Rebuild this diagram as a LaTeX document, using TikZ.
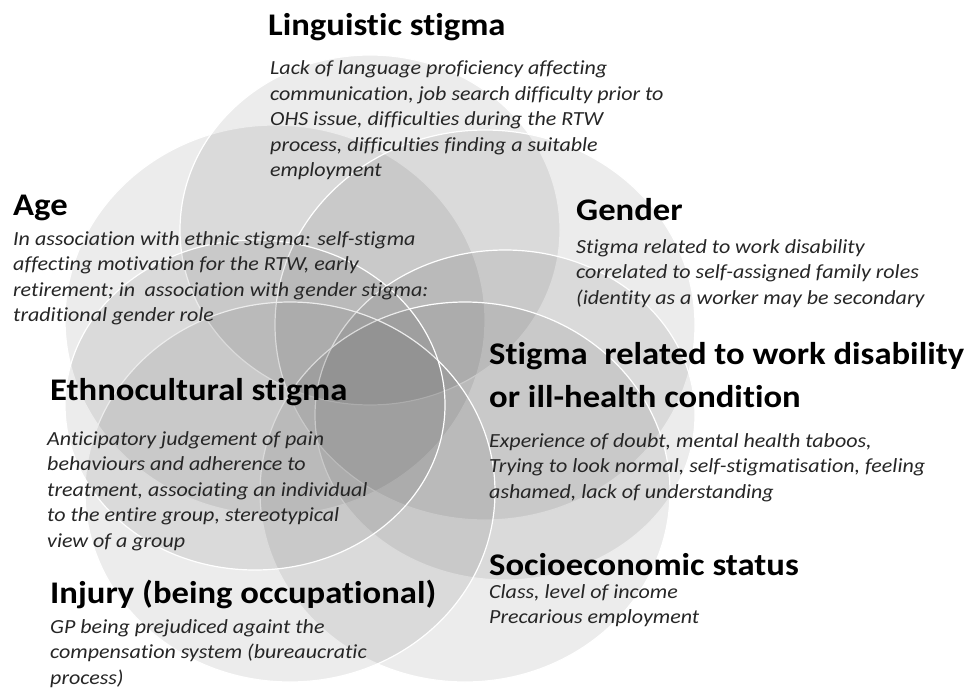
\documentclass[tikz,border=0pt]{standalone}
\usepackage{fontspec}
\usepackage{graphicx}
\setmainfont{Carlito}[RawFeature={-liga;-clig;-dlig;-calt}]
\newcommand{\wide}[1]{\scalebox{1.1}[1]{#1}}
\newcommand{\lines}[1]{\wide{\begin{tabular}[t]{@{}l@{}}#1\end{tabular}}}
\tikzset{
  petal/.style={fill=black, fill opacity=0.075},
  rim/.style={draw=white, line width=1.2pt},
  title/.style={anchor=base west, inner sep=0pt,
    font=\fontsize{31.5}{43}\selectfont\bfseries, text=black},
  desc/.style={anchor=base west, inner sep=0pt,
    font=\fontsize{20}{25.5}\selectfont\itshape, text=black!85},
}
\begin{document}
\begin{tikzpicture}[x=1pt,y=-1pt]
\useasboundingbox (0,0) rectangle (968,690);
\fill[white] (0,0) rectangle (968,690);

% the seven overlapping petals
\foreach \cx/\cy/\rx/\ry in {
    275/320/210/195,   % age
    370/230/190/175,   % linguistic
    485/325/210/195,   % gender
    505/415/190/165,   % work disability
    465/492/205/190,   % socioeconomic
    290/492/205/190,   % injury
    255/405/190/165} { % ethnocultural
  \fill[petal] (\cx,\cy) ellipse [x radius=\rx pt, y radius=\ry pt];
  \draw[rim] (\cx,\cy) ellipse [x radius=\rx pt, y radius=\ry pt];
}

% headings
\node[title] (lingT)  at (268,36)  {\wide{Linguistic stigma}};
\node[title] (ageT)   at (13,215)  {\wide{Age}};
\node[title] (genT)   at (576,220) {\wide{Gender}};
\node[title] (workT)  at (489,364) {\wide{\begin{tabular}[t]{@{}l@{}}Stigma\hspace{0.25em} related to work disability\\or ill-health condition\end{tabular}}};
\node[title] (ethT)   at (50,400)  {\wide{Ethnocultural stigma}};
\node[title] (injT)   at (50,603)  {\wide{Injury (being occupational)}};
\node[title] (socT)   at (489,575) {\wide{Socioeconomic status}};

% descriptions
\node[desc] (lingD) at (270,75) {\lines{Lack of language proficiency affecting\\
  communication, job search difficulty prior to\\
  OHS issue, difficulties during the RTW\\
  process, difficulties finding a suitable\\
  employment}};
\node[desc] (ageD) at (13,245) {\lines{In association with ethnic stigma: self-stigma\\
  affecting motivation for the RTW, early\\
  retirement; in\hspace{0.2em} association with gender stigma:\\
  traditional gender role}};
\node[desc] (genD) at (576,253) {\lines{Stigma related to work disability\\
  correlated to self-assigned family roles\\
  (identity as a worker may be secondary}};
\node[desc] (workD) at (489,447) {\lines{Experience of doubt, mental health taboos,\\
  Trying to look normal, self-stigmatisation, feeling\\
  ashamed, lack of understanding}};
\node[desc] (ethD) at (47,445) {\lines{Anticipatory judgement of pain\\
  behaviours and adherence to\\
  treatment, associating an individual\\
  to the entire group, stereotypical\\
  view of a group}};
\node[desc] (injD) at (50,633) {\lines{GP being prejudiced againt the\\
  compensation system (bureaucratic\\
  process)}};
\node[desc] (socD) at (489,598) {\lines{Class, level of income\\
  Precarious employment}};
\end{tikzpicture}
\end{document}
